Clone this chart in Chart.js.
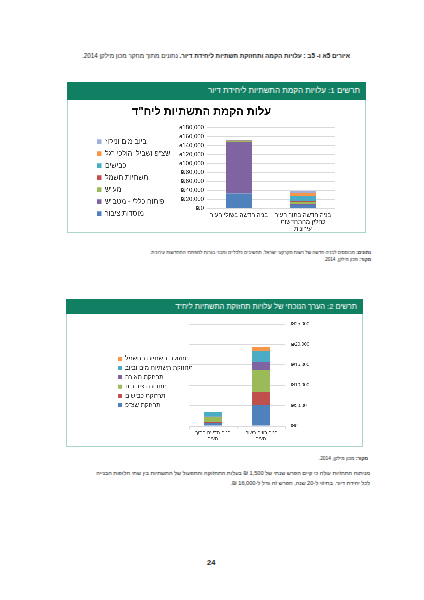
<!DOCTYPE html>
<html lang="he">
<head>
<meta charset="utf-8">
<script src="https://cdn.jsdelivr.net/npm/chart.js@4.4.1/dist/chart.umd.min.js"></script>
<style>
  html,body{margin:0;padding:0;background:#fff;}
  body{width:424px;height:600px;position:relative;overflow:hidden;font-family:"Liberation Sans","DejaVu Sans",sans-serif;color:#222;}
  .t{position:absolute;direction:rtl;text-align:right;white-space:nowrap;}
  .box{position:absolute;border:1px solid #a9d5cc;box-sizing:border-box;background:#fff;}
  .hdr{position:absolute;background:#117f62;color:#fff;direction:rtl;text-align:right;box-sizing:border-box;white-space:nowrap;}
  canvas{position:absolute;}
</style>
</head>
<body>
<script>
// ---- Chart 1 data ----
const cats1 = ['בניה חדשה בשולי העיר', ['בניה חדשה בתוך העיר', 'כחלק מהתחדשות', 'עירונית']];
const names1 = ['מוסדות ציבור', 'פיתוח כללי - מטב"ש', 'מע"ש', 'תשתיות חשמל', 'כבישים', 'שצ"פ ושבילי הולכי רגל', 'ביוב מים וניקוז'];
const mosdot = [33000, 8000];
const pituach = [115000, 2000];
const mash = [3000, 4000];
const chashmal = [500, 2000];
const kvishim = [500, 12000];
const shatsap = [500, 6000];
const biyuv = [500, 5000];
const ticks1 = ['₪0', '₪20,000', '₪40,000', '₪60,000', '₪80,000', '₪100,000', '₪120,000', '₪140,000', '₪160,000', '₪180,000'];

// ---- Chart 2 data ----
const cats2 = [['בניה חדשה בתוך', 'העיר'], ['בניה רוויה בשולי', 'העיר']];
const names2 = ['תחזוקת שצ"פ', 'תחזוקת כבישים', 'תחבורה ציבורית', 'תחזוקת תאורה', 'תחזוקת תשתיות מים וביוב', 'תחזוקת תשתיות החשמל'];
const m_shatsap = [800, 5200];
const m_kvishim = [100, 3150];
const m_tachbura = [1300, 5400];
const m_teura = [100, 1900];
const m_mayim = [1100, 2800];
const m_chashmal = [100, 900];
const ticks2 = ['₪0', '₪5,000', '₪10,000', '₪15,000', '₪20,000', '₪25,000'];
</script>

<div class="t" style="right:74px;top:52px;font-size:6.3px;"><b>איורים 5א ו- 5ב : עלויות הקמה ותחזוקת תשתיות ליחידת דיור.</b> נתונים מתוך מחקר מכון מילקן 2014.</div>

<div class="box" style="left:67px;top:82px;width:299px;height:151px;"></div>
<div class="hdr" style="left:67px;top:82px;width:299px;height:18px;font-size:8px;line-height:18px;padding-right:6px;">תרשים 1: עלויות הקמת התשתיות ליחידת דיור</div>
<canvas id="c1" style="left:68px;top:101px;width:297px;height:135px;"></canvas>

<div class="t" style="right:53px;top:250px;font-size:4.6px;"><b>נתונים:</b> מבוססים לבניה חדשה של רשות מקרקעי ישראל. תחשיבים כלכליים ומבני בגרות למפתחי התחדשות עירונית.</div>
<div class="t" style="right:53px;top:257px;font-size:4.6px;"><b>מקור:</b> מכון מילקן, 2014.</div>

<div class="box" style="left:66px;top:299px;width:297px;height:148px;"></div>
<div class="hdr" style="left:66px;top:299px;width:297px;height:15px;font-size:7.5px;line-height:15px;padding-right:6px;">תרשים 2: הערך הנוכחי של עלויות תחזוקת התשתיות ליח"ד</div>
<canvas id="c2" style="left:67px;top:315px;width:295px;height:131px;"></canvas>

<div class="t" style="right:56px;top:456px;font-size:4.8px;"><b>מקור:</b> מכון מילקן, 2014.</div>
<div class="t" style="right:54px;top:470px;font-size:5.6px;">מניתוח התחזיות עולה כי קיים הפרש שנתי של 1,500 ₪ בעלות התחזוקה והתפעול של התשתיות בין שתי חלופות הבנייה</div>
<div class="t" style="right:54px;top:480px;font-size:5.6px;">לכל יחידת דיור. בחיזוי ל-20 שנה, הפרש זה גדל ל-16,000 ₪.</div>

<div class="t" style="left:207px;top:558px;font-size:7.5px;font-weight:bold;direction:ltr;">24</div>

<script>
const FONT = '"Liberation Sans","DejaVu Sans",sans-serif';
const C = {blue:'#4f81bd', red:'#c0504d', green:'#9bbb59', purple:'#8064a2', teal:'#4bacc6', orange:'#f79646', lblue:'#9fb0dc'};

// fixes the legend's width during layout and places it afterwards
const legendPlace = {
  id:'legendPlace',
  beforeLayout(chart, args, o){
    const l = chart.legend;
    if (l && !l._fixed){
      const f = l.fit;
      l.fit = function(){ f.call(this); if (o.width) this.width = o.width; };
      l._fixed = true;
    }
  },
  afterLayout(chart, args, o){
    const l = chart.legend; if (!l) return;
    const w = l.right - l.left;
    l.left = o.x; l.right = o.x + w;
    l.top = o.y; l.bottom = o.y + 120;
  }
};

function mkDs(names, arrs, cols, bp){
  return arrs.map((a,i)=>({label:names[i], data:a, backgroundColor:cols[i], borderWidth:0, barPercentage:bp, categoryPercentage:1}));
}

const L1 = {font:7, pad:5};
new Chart(document.getElementById('c1'), {
  type:'bar',
  data:{labels:cats1, datasets:mkDs(names1,[mosdot,pituach,mash,chashmal,kvishim,shatsap,biyuv],
     [C.blue,C.purple,C.green,C.red,C.teal,C.orange,C.lblue],0.41)},
  plugins:[legendPlace],
  options:{
    responsive:false, animation:false, devicePixelRatio:3,
    layout:{padding:{left:0,right:30,top:0,bottom:0}},
    plugins:{
      legendPlace:{width:100, x:29 - L1.pad, y:40.7 - L1.pad - L1.font/2},
      title:{display:true, text:'עלות הקמת התשתיות ליח"ד', color:'#111', font:{family:FONT,size:11,weight:'bold'}, padding:{top:4.5,bottom:9}},
      legend:{position:'left', align:'start', reverse:true, rtl:false, textDirection:'rtl',
        labels:{boxWidth:4.5, boxHeight:4.5, padding:L1.pad, color:'#333', font:{family:FONT,size:L1.font}}},
      tooltip:{enabled:false}
    },
    scales:{
      x:{stacked:true, grid:{display:false, drawTicks:false}, border:{display:false},
         ticks:{color:'#333', font:{family:FONT,size:6,lineHeight:1.15}, padding:3.5, maxRotation:0, autoSkip:false}},
      y:{stacked:true, min:0, max:180000, border:{display:false},
         grid:{color:'#d9d9d9', drawTicks:false},
         afterFit:(s)=>{ s.width = 39; },
         ticks:{stepSize:20000, autoSkip:false, color:'#333', font:{family:FONT,size:6}, padding:3,
           callback:(v,i)=>ticks1[i]}}
    }
  }
});

const L2 = {font:6.2, pad:3.1};
new Chart(document.getElementById('c2'), {
  type:'bar',
  data:{labels:cats2, datasets:mkDs(names2,[m_shatsap,m_kvishim,m_tachbura,m_teura,m_mayim,m_chashmal],
     [C.blue,C.red,C.green,C.purple,C.teal,C.orange],0.38)},
  plugins:[legendPlace],
  options:{
    responsive:false, animation:false, devicePixelRatio:3,
    layout:{padding:{left:0,right:47,top:9,bottom:3}},
    plugins:{
      legendPlace:{width:122, x:51 - L2.pad, y:43.7 - L2.pad - L2.font/2},
      title:{display:false},
      legend:{position:'left', align:'start', reverse:true, rtl:false, textDirection:'rtl',
        labels:{boxWidth:4, boxHeight:4, padding:L2.pad, color:'#333', font:{family:FONT,size:L2.font}}},
      tooltip:{enabled:false}
    },
    scales:{
      x:{stacked:true, border:{display:true,color:'#d9d9d9'},
         grid:{display:true, drawOnChartArea:false, drawTicks:true, tickLength:3, color:'#d9d9d9'},
         ticks:{color:'#333', font:{family:FONT,size:5}, padding:1, maxRotation:0, autoSkip:false}},
      y:{stacked:true, position:'right', min:0, max:25000, border:{display:false},
         grid:{color:'#d9d9d9', drawTicks:false},
         afterFit:(s)=>{ s.width = 30; },
         ticks:{stepSize:5000, autoSkip:false, color:'#333', font:{family:FONT,size:4.7}, padding:6,
           callback:(v,i)=>ticks2[i]}}
    }
  }
});
</script>
</body>
</html>
